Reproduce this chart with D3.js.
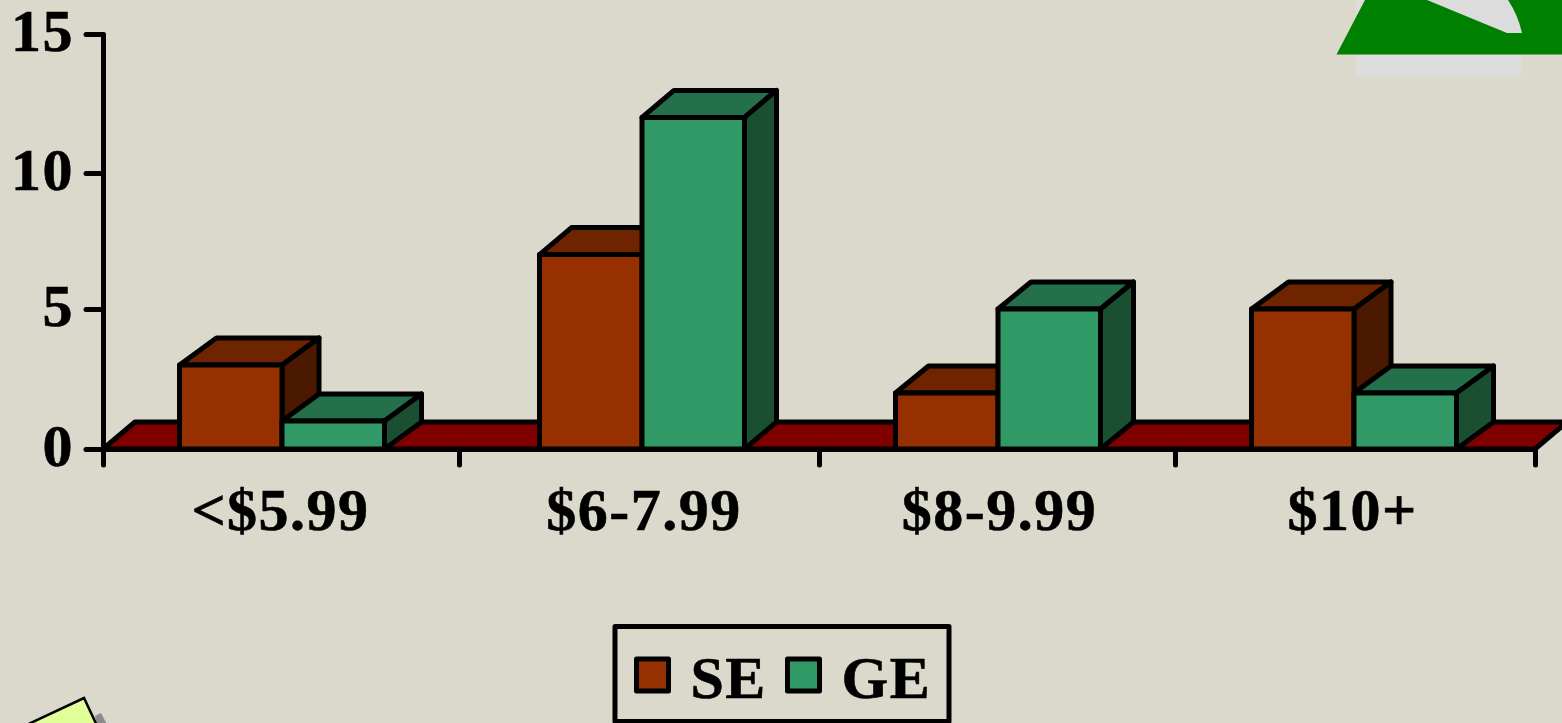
<!DOCTYPE html>
<html><head><meta charset="utf-8">
<script src="https://cdn.jsdelivr.net/npm/d3@7/dist/d3.min.js"></script>
<style>html,body{margin:0;padding:0;background:#dbd9cc;overflow:hidden}
svg{display:block}
text{font-family:"Liberation Serif","Times New Roman",serif;font-weight:bold;fill:#000;stroke:#000;stroke-width:.6px;letter-spacing:1.5px}
.axis path,.axis line{stroke:#000;stroke-width:5;stroke-linecap:round}
.axis text{font-family:"Liberation Serif",serif;font-weight:bold}
</style></head><body><svg id="c" width="1562" height="723"></svg>
<script>
const categories = ["<$5.99","$6-7.99","$8-9.99","$10+"];
const seriesNames = ["SE","GE"];
const seValues = [3,7,2,5];
const geValues = [1,12,5,2];
const yTicks = [0,5,10,15];

const colors = {
  SE:{front:"#963000",top:"#6f2400",side:"#4b1900"},
  GE:{front:"#319966",top:"#24704b",side:"#1b4f32"}
};
const groupCentres = [282,642,998,1354];
const labelCentres = [280,643.5,999,1352];
const tickEdges = [103,459,819,1175,1535];
const depthX = [37,32,33,37];
const depthY = 27, barW = 102.5;

const svg = d3.select("#c");
svg.append("rect").attr("width",1562).attr("height",723).attr("fill","#dbd9cc");

const y = d3.scaleLinear().domain(yTicks).range([449,309,173,34]);
const x = d3.scaleOrdinal().domain(categories).range(groupCentres);
const xLabel = d3.scaleOrdinal().domain(categories).range(labelCentres);
const xEdge = d3.scaleOrdinal().domain(d3.range(tickEdges.length)).range(tickEdges);

// decoration top right
svg.append("rect").attr("x",1356).attr("y",-5).attr("width",165).attr("height",81).attr("fill","#dcdcdc");
svg.append("path").attr("d","M1336.5,54.5L1365,0L1562,0L1562,54.5Z").attr("fill","#008000");
svg.append("path").attr("d","M1427,0L1507,33L1522,33Q1518,15 1508,0Z").attr("fill","#dcdcdc");

// decoration bottom left
svg.append("path").attr("d","M95,716L101,713L110,730L100,735Z").attr("fill","#8c8c8c");
svg.append("path").attr("d","M20,728L84,698L100,732Z").attr("fill","#e1ff99").attr("stroke","#000").attr("stroke-width",2.5);

// floor
svg.append("path")
  .attr("d",`M103,${y(0)}L${103+32},${y(0)-depthY}L${1535+32},${y(0)-depthY}L1535,${y(0)}Z`)
  .attr("fill","#800000").attr("stroke","#000").attr("stroke-width",5).attr("stroke-linejoin","round");

// bars
function drawBar(g,name,x0,v,dx){
  const yT=y(v), yB=y(0), x1=x0+barW, c=colors[name];
  const st=s=>s.attr("stroke","#000").attr("stroke-width",5).attr("stroke-linejoin","round");
  st(g.append("path").attr("d",`M${x0},${yT}L${x0+dx},${yT-depthY}L${x1+dx},${yT-depthY}L${x1},${yT}Z`).attr("fill",c.top));
  st(g.append("path").attr("d",`M${x1},${yT}L${x1+dx},${yT-depthY}L${x1+dx},${yB-depthY}L${x1},${yB}Z`).attr("fill",c.side));
  st(g.append("rect").attr("x",x0).attr("y",yT).attr("width",barW).attr("height",yB-yT).attr("fill",c.front));
}
const bars = svg.append("g");
categories.forEach((cat,i)=>{
  const g=bars.append("g");
  drawBar(g,"SE",x(cat)-barW,seValues[i],depthX[i]);
  drawBar(g,"GE",x(cat),geValues[i],depthX[i]);
});

// axes
const yAxis = d3.axisLeft(y).tickValues(yTicks).tickSize(17).tickSizeOuter(0).tickPadding(12);
const ya = svg.append("g").attr("class","axis").attr("transform","translate(103,0)").call(yAxis);
ya.selectAll("text").attr("font-size",60).attr("dy","0.28em").attr("fill","#000");

const xTicksAxis = d3.axisBottom(xEdge).tickSize(16).tickSizeOuter(0).tickFormat("");
svg.append("g").attr("class","axis").attr("transform",`translate(0,${y(0)})`).call(xTicksAxis);

const labelAxis = d3.axisBottom(xLabel).tickSize(0).tickPadding(0);
const la = svg.append("g").attr("class","labels").attr("transform","translate(0,530)").call(labelAxis);
la.select(".domain").remove();
la.selectAll("text").attr("y",0).attr("dy",0).attr("font-size",60).attr("fill","#000")
  .attr("font-family",'"Liberation Serif",serif').attr("font-weight","bold");

// legend
svg.append("rect").attr("x",615).attr("y",626.5).attr("width",334).attr("height",95)
  .attr("fill","none").attr("stroke","#000").attr("stroke-width",5).attr("stroke-linejoin","round");
const legendX = d3.scaleOrdinal().domain(seriesNames).range([636.5,787.5]);
const leg = svg.append("g").selectAll("g").data(seriesNames).join("g")
  .attr("transform",d=>`translate(${legendX(d)},659)`);
leg.append("rect").attr("width",32).attr("height",32).attr("fill",d=>colors[d].front)
  .attr("stroke","#000").attr("stroke-width",5).attr("stroke-linejoin","round");
leg.append("text").attr("x",54).attr("y",39).attr("font-size",60).text(d=>d);
</script></body></html>
